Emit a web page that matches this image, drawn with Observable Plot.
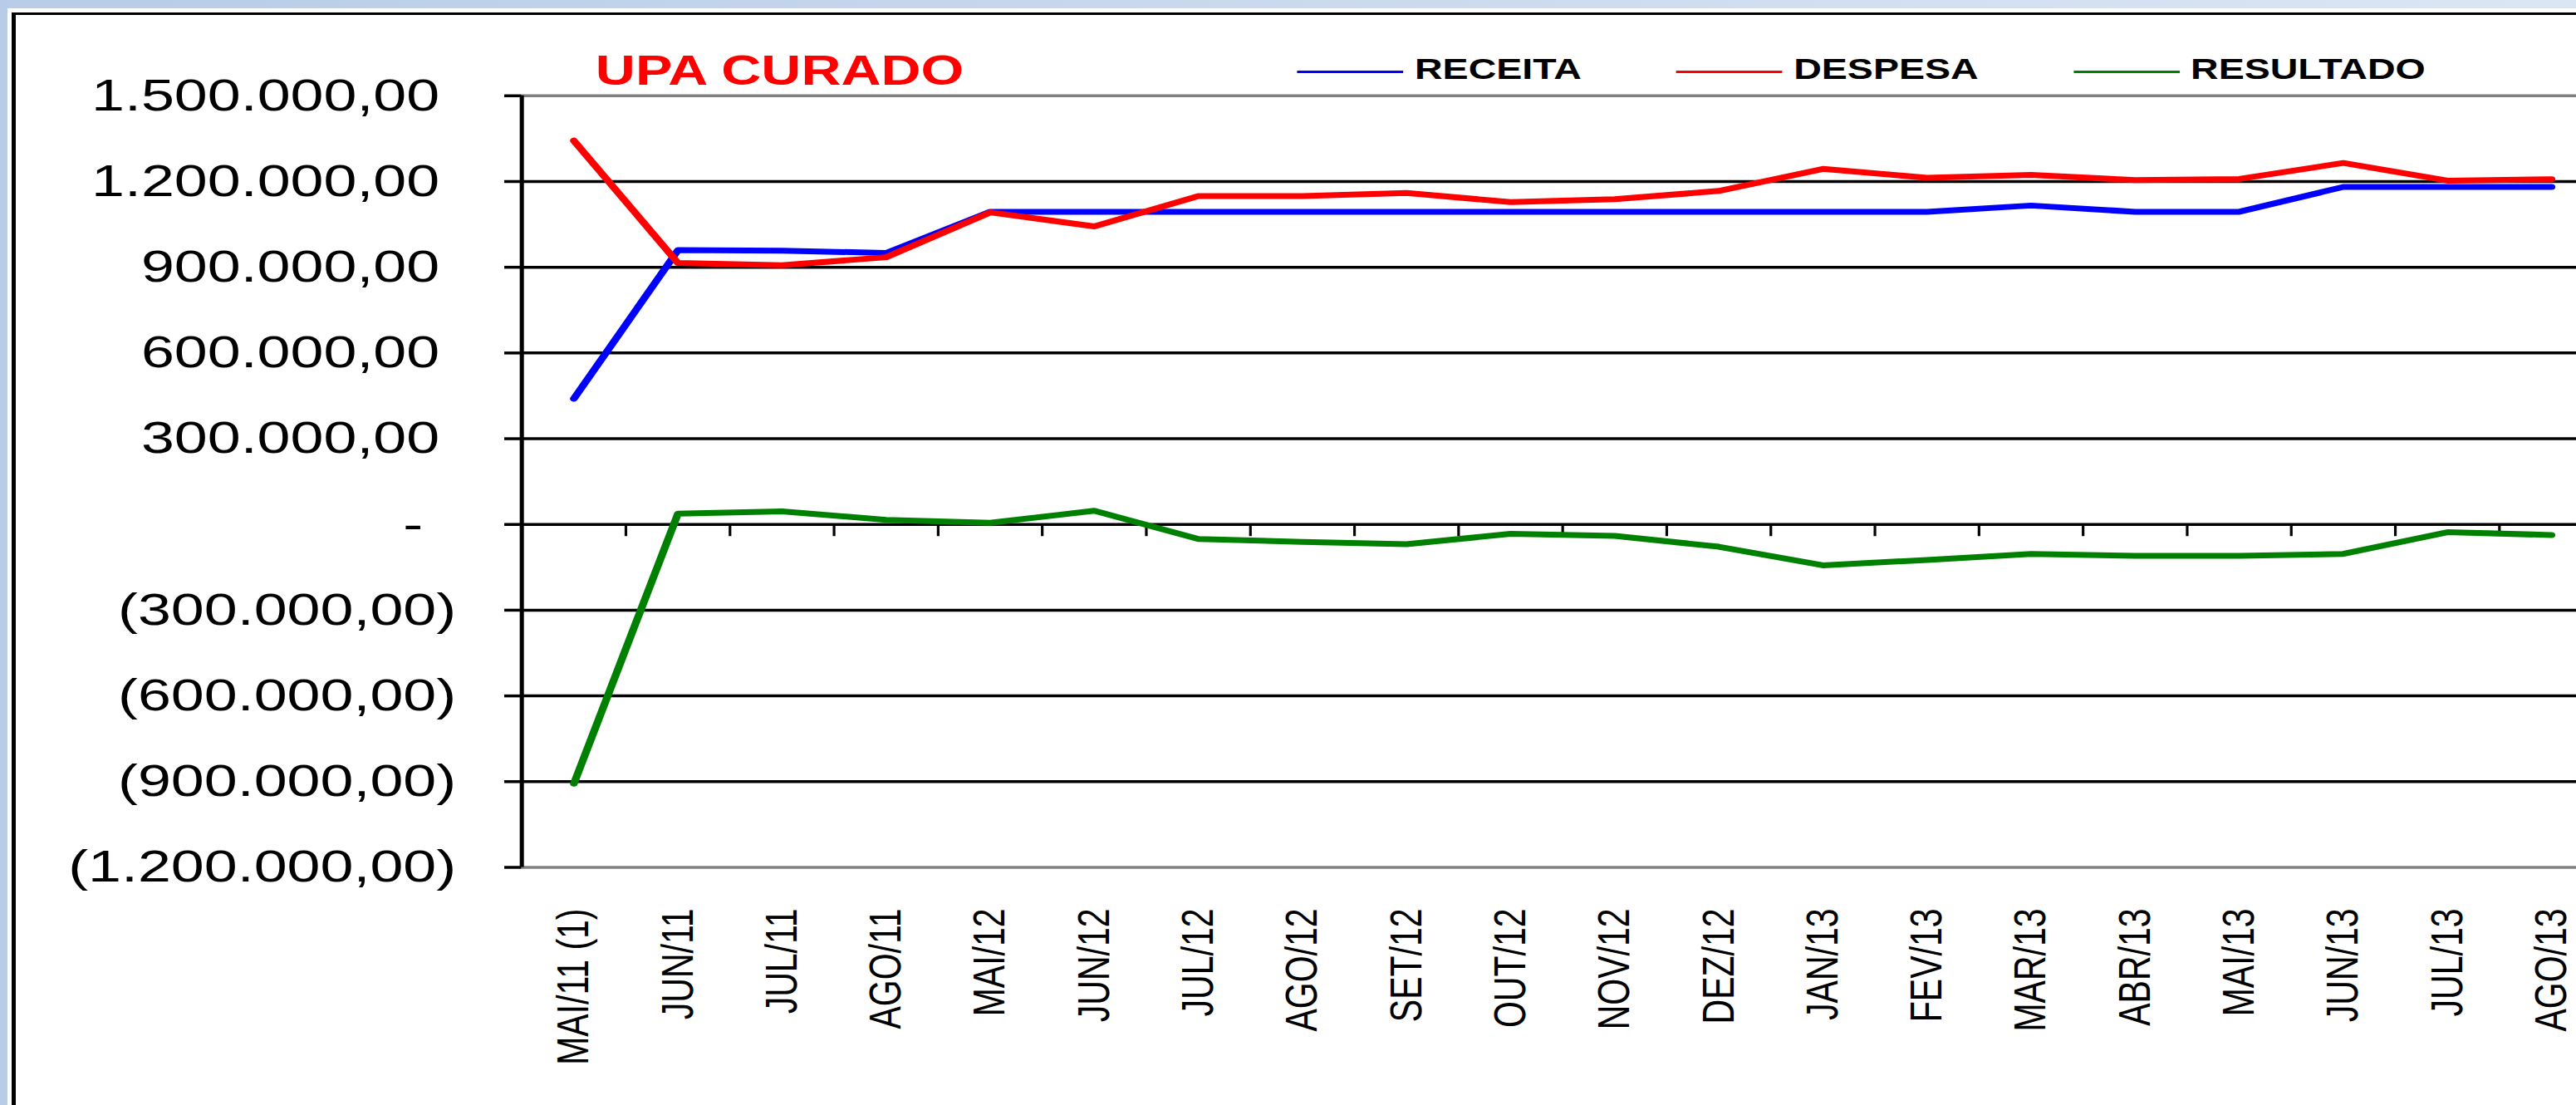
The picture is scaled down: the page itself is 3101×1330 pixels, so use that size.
<!DOCTYPE html>
<html>
<head>
<meta charset="utf-8">
<script src="https://cdn.jsdelivr.net/npm/d3@7"></script>
<script src="https://cdn.jsdelivr.net/npm/@observablehq/plot@0.6"></script>
<style>
  html, body { margin: 0; padding: 0; width: 3101px; height: 1330px; overflow: hidden; }
  body { background: linear-gradient(to right, #b8cce8, #dbe6f4); position: relative; font-family: 'Liberation Sans', Arial, sans-serif; }
  #panel { position: absolute; left: 9px; top: 10px; width: 3200px; height: 1400px; background: #fff; }
  #border { position: absolute; left: 14px; top: 15px; width: 3200px; height: 1400px; border-left: 5px solid #000; border-top: 3px solid #000; }
  #stage { position: absolute; left: 0; top: 0; height: 1330px; transform-origin: 0 0; }
  #title { position: absolute; white-space: nowrap; font-weight: bold; line-height: 1; color: #ff0000; }
  #legend { position: absolute; display: flex; align-items: center; white-space: nowrap; line-height: 1; }
  .item { display: flex; align-items: center; }
  .swatch { position: relative; top: 3.5px; height: 3px; }
  .label { font-weight: bold; color: #000; }
</style>
</head>
<body>
<div id="panel"></div>
<div id="border"></div>
<div id="stage"></div>
<script>
// ---- data ----
const title = "UPA CURADO";
const categories = ["MAI/11 (1)", "JUN/11", "JUL/11", "AGO/11", "MAI/12", "JUN/12", "JUL/12", "AGO/12", "SET/12", "OUT/12",
  "NOV/12", "DEZ/12", "JAN/13", "FEV/13", "MAR/13", "ABR/13", "MAI/13", "JUN/13", "JUL/13", "AGO/13"];
const receita = [440000, 960000, 958000, 950000, 1094000, 1094000, 1094000, 1094000, 1094000, 1094000,
  1094000, 1094000, 1094000, 1094000, 1116000, 1094000, 1094000, 1181000, 1181000, 1181000];
const despesa = [1343000, 915000, 907000, 935000, 1092000, 1043000, 1149000, 1149000, 1160000, 1128000,
  1138000, 1167000, 1244000, 1213000, 1223000, 1205000, 1209000, 1265000, 1203000, 1208000];
const resultado = [-907000, 38000, 46000, 16000, 6000, 48000, -51000, -61000, -69000, -33000,
  -40000, -78000, -143000, -124000, -103000, -110000, -110000, -103000, -27000, -37000];
const seriesNames = ["RECEITA", "DESPESA", "RESULTADO"];
const seriesColors = ["#0000ff", "#ff0000", "#008000"];
const yTicks = [-1200000, -900000, -600000, -300000, 0, 300000, 600000, 900000, 1200000, 1500000];

// ---- layout (horizontal stretch of the original screenshot) ----
const k = 1.33;
const W = 3101 / k;

const locale = d3.formatLocale({decimal: ",", thousands: ".", grouping: [3], currency: ["", ""]});
const f2 = locale.format(",.2f");
const fmt = v => v === 0 ? "-\u00a0\u00a0" : v < 0 ? `(${f2(-v)})` : `${f2(v)}\u00a0`;

const rows = [];
[receita, despesa, resultado].forEach((vals, s) =>
  vals.forEach((v, i) => rows.push({i, value: v, series: seriesNames[s]})));

const boundaries = d3.range(categories.length - 1).map(i => i + 0.5);
const innerGrid = yTicks.slice(1, -1);
const borderGrid = [yTicks[0], yTicks[yTicks.length - 1]];
const tickDown = {draw(ctx) { ctx.moveTo(0, 0); ctx.lineTo(0, 14); }};

const chart = Plot.plot({
  width: W,
  height: 1330,
  marginLeft: 627.5 / k,
  marginRight: 0,
  marginTop: 114.8,
  marginBottom: 286.5,
  style: {background: "transparent", fontFamily: "'Liberation Sans', Arial, sans-serif", color: "#000", overflow: "visible"},
  x: {type: "linear", domain: [-0.5, categories.length - 0.5], range: [627.5 / k, 3133.5 / k]},
  y: {domain: [yTicks[0], yTicks[yTicks.length - 1]]},
  color: {domain: seriesNames, range: seriesColors},
  marks: [
    Plot.ruleY(innerGrid, {stroke: "#000", strokeWidth: 3.5}),
    Plot.ruleY(borderGrid, {stroke: "#808080", strokeWidth: 3.5}),
    Plot.ruleX([-0.5], {stroke: "#000", strokeWidth: 3.8}),
    Plot.dot(boundaries, {x: d => d, y: () => 0, symbol: tickDown, stroke: "#000", strokeWidth: 2.4, fill: "none"}),
    Plot.axisY({ticks: yTicks, tickFormat: fmt, tickSize: 15.4, tickPadding: 44, fontSize: 54, strokeWidth: 3.5, label: null}),
    Plot.axisX({ticks: d3.range(categories.length), tickFormat: i => categories[i], tickRotate: -90,
      tickSize: 0, tickPadding: 49.5, fontSize: 41, label: null}),
    Plot.line(rows, {x: "i", y: "value", z: "series", stroke: "series", strokeWidth: 7, strokeLinejoin: "round"})
  ]
});

const stage = document.getElementById("stage");
stage.style.width = W + "px";
stage.style.transform = `scaleX(${k})`;
stage.appendChild(chart);

// title
const t = document.createElement("div");
t.id = "title";
t.textContent = title;
t.style.left = "539px";
t.style.top = (102 - 0.8465 * 50) + "px";
t.style.fontSize = "50px";
stage.appendChild(t);

// legend
const lg = document.createElement("div");
lg.id = "legend";
lg.style.left = (1562 / k) + "px";
lg.style.top = (95 - 0.8465 * 35) + "px";
lg.style.fontSize = "35px";
seriesNames.forEach((name, s) => {
  const it = document.createElement("div");
  it.className = "item";
  it.style.marginRight = s < seriesNames.length - 1 ? "86px" : "0";
  const sw = document.createElement("div");
  sw.className = "swatch";
  sw.style.width = "96px";
  sw.style.background = seriesColors[s];
  const lb = document.createElement("span");
  lb.className = "label";
  lb.style.marginLeft = "10px";
  lb.textContent = name;
  it.appendChild(sw);
  it.appendChild(lb);
  lg.appendChild(it);
});
stage.appendChild(lg);
</script>
</body>
</html>
